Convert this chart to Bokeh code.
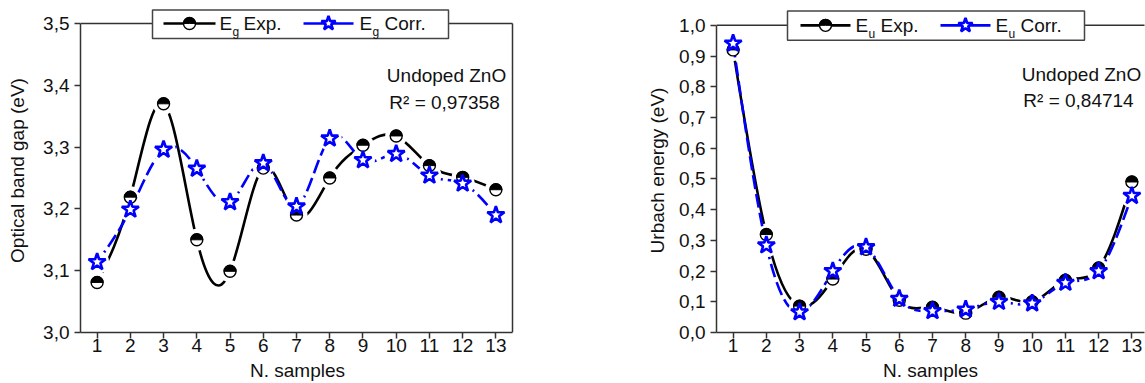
import numpy as np
from bokeh.plotting import figure
from bokeh.layouts import row
from bokeh.models import FixedTicker, Range1d, ColumnDataSource
from bokeh.core.properties import value
from bokeh.embed import file_html
from bokeh.resources import INLINE

# ---------------- data ----------------
samples = [1, 2, 3, 4, 5, 6, 7, 8, 9, 10, 11, 12, 13]
eg_exp = [3.081, 3.219, 3.370, 3.150, 3.099, 3.266, 3.190, 3.250, 3.303, 3.318, 3.270, 3.251, 3.231]
eg_corr = [3.114, 3.199, 3.296, 3.265, 3.211, 3.274, 3.204, 3.314, 3.279, 3.289, 3.254, 3.241, 3.190]
eu_exp = [0.920, 0.319, 0.086, 0.174, 0.271, 0.105, 0.082, 0.063, 0.115, 0.100, 0.170, 0.210, 0.490]
eu_corr = [0.941, 0.284, 0.066, 0.200, 0.278, 0.110, 0.070, 0.075, 0.100, 0.095, 0.162, 0.200, 0.445]

x_ticks = samples
eg_ticks = [3.0, 3.1, 3.2, 3.3, 3.4, 3.5]
eg_tick_labels = ["3,0", "3,1", "3,2", "3,3", "3,4", "3,5"]
eu_ticks = [0.0, 0.1, 0.2, 0.3, 0.4, 0.5, 0.6, 0.7, 0.8, 0.9, 1.0]
eu_tick_labels = ["0,0", "0,1", "0,2", "0,3", "0,4", "0,5", "0,6", "0,7", "0,8", "0,9", "1,0"]
sample_name = "Undoped ZnO"
eg_r2 = "R\u00b2 = 0,97358"
eu_r2 = "R\u00b2 = 0,84714"

FONT = "Liberation Sans"
BLACK = "#000000"
BLUE = "#0000ff"
AXIS = "#333333"
TOP = 8  # frame top, page px


def spline_segments(x, y):
    """Natural cubic spline through the points, as Bezier segments."""
    x = np.asarray(x, float)
    y = np.asarray(y, float)
    n = len(x)
    h = np.diff(x)
    A = np.zeros((n, n))
    b = np.zeros(n)
    A[0, 0] = 1.0
    A[-1, -1] = 1.0
    for i in range(1, n - 1):
        A[i, i - 1] = h[i - 1]
        A[i, i] = 2 * (h[i - 1] + h[i])
        A[i, i + 1] = h[i]
        b[i] = 6 * ((y[i + 1] - y[i]) / h[i] - (y[i] - y[i - 1]) / h[i - 1])
    M = np.linalg.solve(A, b)
    sl = (y[1:] - y[:-1]) / h
    d0 = sl - h * (2 * M[:-1] + M[1:]) / 6
    d1 = sl + h * (M[:-1] + 2 * M[1:]) / 6
    return ColumnDataSource(dict(
        x0=x[:-1], y0=y[:-1], x1=x[1:], y1=y[1:],
        cx0=x[:-1] + h / 3, cy0=y[:-1] + d0 * h / 3,
        cx1=x[1:] - h / 3, cy1=y[1:] - d1 * h / 3))


def half_circle(p, xs, ys, size=12):
    p.scatter(xs, ys, marker="circle", size=size, fill_color="white",
              line_color=BLACK, line_width=1.4)
    p.wedge(xs, ys, radius=size / 2, radius_units="screen", start_angle=0,
            end_angle=np.pi, fill_color=BLACK, line_color=BLACK, line_width=1)


def star(p, xs, ys, size=18):
    p.scatter(xs, ys, marker="star", size=size, fill_color="white",
              line_color=BLUE, line_width=2.6)


def make_plot(width, height, border_left, border_right, frame_h, x_end,
              y0, y1, y_top_px, ppu, ticks, tick_labels, ylabel, exp, corr,
              sub, legend_px, note_px, r2_text, ylabel_standoff):
    # frame top is at page y = TOP; value y1 sits y_top_px below it
    y_end = y1 + y_top_px / ppu
    p = figure(width=width, height=height, x_range=Range1d(0.5, x_end),
               y_range=Range1d(y0, y_end), output_backend="svg",
               toolbar_location=None, min_border_left=border_left,
               min_border_right=border_right, min_border_top=TOP,
               min_border_bottom=height - frame_h - TOP)
    p.outline_line_color = None
    p.grid.visible = False
    p.background_fill_color = "white"
    p.border_fill_color = "white"

    xs = 33.23  # px per sample

    def fx(px):  # px measured from frame left
        return 0.5 + px / xs

    def fy(py):  # py measured from page top
        return y1 - (py - TOP - y_top_px) / ppu

    # axes
    p.xaxis.ticker = FixedTicker(ticks=x_ticks)
    p.yaxis.ticker = FixedTicker(ticks=ticks)
    p.yaxis.major_label_overrides = dict(zip(ticks, tick_labels))
    p.xaxis.bounds = (0.5, 13.5)
    p.yaxis.bounds = (y0, y1)
    for ax in (p.xaxis, p.yaxis):
        ax.axis_line_color = AXIS
        ax.axis_line_width = 1.5
        ax.major_tick_line_color = AXIS
        ax.major_tick_line_width = 1.5
        ax.major_tick_out = 6
        ax.major_tick_in = 0
        ax.minor_tick_line_color = None
        ax.major_label_text_font = FONT
        ax.major_label_text_font_size = "19px"
        ax.major_label_text_color = "#111111"
        ax.axis_label_text_font = FONT
        ax.axis_label_text_font_size = "19px"
        ax.axis_label_text_font_style = "normal"
        ax.axis_label_text_color = "#111111"
    p.xaxis.major_label_standoff = 0
    p.xaxis.axis_label_standoff = 5
    p.yaxis.major_label_standoff = 5
    p.yaxis.axis_label_standoff = ylabel_standoff
    p.xaxis.axis_label = "N. samples"
    p.yaxis.axis_label = ylabel

    # frame top / right lines
    p.segment(x0=[0.5, 13.5], y0=[y1, y1], x1=[13.5, 13.5], y1=[y1, y0],
              line_color=AXIS, line_width=1.5)

    # curves
    p.bezier(x0="x0", y0="y0", x1="x1", y1="y1", cx0="cx0", cy0="cy0",
             cx1="cx1", cy1="cy1", source=spline_segments(samples, exp),
             line_color=BLACK, line_width=2.6)
    p.scatter(samples, exp, marker="circle", size=22, fill_color="white",
              line_color=None)
    p.bezier(x0="x0", y0="y0", x1="x1", y1="y1", cx0="cx0", cy0="cy0",
             cx1="cx1", cy1="cy1", source=spline_segments(samples, corr),
             line_color=BLUE, line_width=2.6, line_dash="14 5")
    p.scatter(samples, corr, marker="circle", size=24, fill_color="white",
              line_color=None)
    half_circle(p, samples, exp)
    star(p, samples, corr)

    # legend (page-pixel layout measured relative to frame left)
    L = legend_px
    ly = fy(L["cy"])
    p.quad(left=[fx(L["left"])], right=[fx(L["right"])], top=[fy(L["top"])],
           bottom=[fy(L["bottom"])], fill_color="white", line_color="#444444",
           line_width=1.5)
    p.segment(x0=[fx(L["l1"][0]), fx(L["l2"][0])], y0=[ly, ly],
              x1=[fx(L["l1"][1]), fx(L["l2"][1])], y1=[ly, ly],
              line_color=[BLACK, BLUE], line_width=2.6)
    half_circle(p, [fx(L["m1"])], [ly], size=12)
    star(p, [fx(L["m2"])], [ly], size=15)
    p.text(x=[fx(L["e1"]), fx(L["e2"])], y=[ly, ly], text=["E", "E"],
           text_font=value(FONT), text_font_size=value("19px"),
           text_align="left", text_baseline="middle", text_color="#111111")
    p.text(x=[fx(L["s1"]), fx(L["s2"])], y=[fy(L["cy"] + 9)] * 2,
           text=[sub, sub], text_font=value(FONT),
           text_font_size=value("12px"), text_align="left",
           text_baseline="middle", text_color="#111111")
    p.text(x=[fx(L["t1"]), fx(L["t2"])], y=[ly, ly], text=["Exp.", "Corr."],
           text_font=value(FONT), text_font_size=value("19px"),
           text_align="left", text_baseline="middle", text_color="#111111")

    # annotation
    N = note_px
    p.text(x=[fx(N["x1"]), fx(N["x2"])], y=[fy(N["y1"]), fy(N["y2"])],
           text=[sample_name, r2_text], text_font=value(FONT),
           text_font_size=value("19px"), text_align="center",
           text_baseline="middle", text_color="#111111")
    return p


# left panel: frame left at page x=80, frame top page y=8
left_legend = dict(left=72, right=368, top=9.5, bottom=38, cy=23,
                   l1=(83, 135), m1=109, e1=139, s1=152, t1=163,
                   l2=(223, 273), m2=248, e2=279, s2=292, t2=304)
left_note = dict(x1=366, y1=75, x2=364, y2=102)
p1 = make_plot(width=572, height=383, border_left=80, border_right=58,
               frame_h=325, x_end=13.56, y0=3.0, y1=3.5, y_top_px=15,
               ppu=620.0, ticks=eg_ticks, tick_labels=eg_tick_labels,
               ylabel="Optical band gap (eV)", exp=eg_exp, corr=eg_corr,
               sub="g", legend_px=left_legend, note_px=left_note,
               r2_text=eg_r2, ylabel_standoff=12)

# right panel: frame left at page x=716
right_legend = dict(left=71, right=368, top=10.5, bottom=40, cy=25,
                    l1=(84, 134), m1=109, e1=139, s1=152, t1=164,
                    l2=(224, 274), m2=249, e2=279, s2=292, t2=304)
right_note = dict(x1=365, y1=75, x2=362, y2=101)
p2 = make_plot(width=573, height=383, border_left=144, border_right=1,
               frame_h=327, x_end=13.38, y0=0.0, y1=1.0, y_top_px=17,
               ppu=310.0, ticks=eu_ticks, tick_labels=eu_tick_labels,
               ylabel="Urbach energy (eV)", exp=eu_exp, corr=eu_corr,
               sub="u", legend_px=right_legend, note_px=right_note,
               r2_text=eu_r2, ylabel_standoff=8)

layout = row(p1, p2)
open("out.html", "w").write(file_html(layout, INLINE))
